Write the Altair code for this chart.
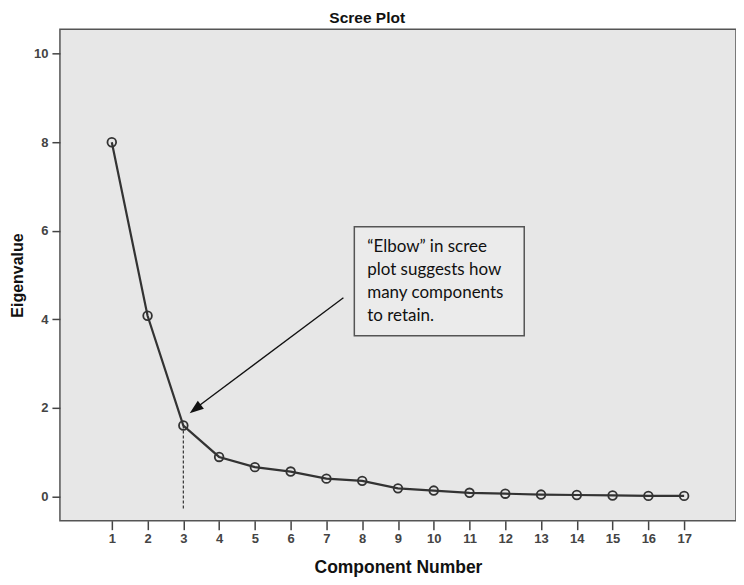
import altair as alt
import pandas as pd

components = list(range(1, 18))
eigenvalues = [8.00, 4.08, 1.60, 0.89, 0.66, 0.56, 0.40, 0.35, 0.18, 0.13,
               0.08, 0.06, 0.04, 0.03, 0.02, 0.01, 0.01]
y_ticks = [0, 2, 4, 6, 8, 10]
note_lines = ["\u201cElbow\u201d in scree", "plot suggests how",
              "many components", "to retain."]
chart_title = "Scree Plot"

df = pd.DataFrame({"component": components, "eigenvalue": eigenvalues})

INK = "#333333"
BG = "#e7e7e7"

xscale = alt.Scale(domain=[-0.45, 18.45], nice=False, zero=False)
yscale = alt.Scale(domain=[-0.55, 10.55], nice=False, zero=False)

xaxis = alt.Axis(values=components, title="Component Number", grid=False,
                 domain=False, tickSize=9, tickWidth=1.5, tickColor="#444",
                 labelFont="Liberation Sans", labelFontSize=13,
                 labelFontWeight="bold", labelColor="#444", labelPadding=3,
                 titleFont="Liberation Sans", titleFontSize=17.5,
                 titleFontWeight="bold", titleColor="#111", titlePadding=13)
yaxis = alt.Axis(values=y_ticks, title="Eigenvalue", grid=False,
                 domain=False, tickSize=8, tickWidth=1.5, tickColor="#444",
                 labelFont="Liberation Sans", labelFontSize=13,
                 labelFontWeight="bold", labelColor="#444", labelPadding=4,
                 titleFont="Liberation Sans", titleFontSize=16,
                 titleFontWeight="bold", titleColor="#111", titlePadding=8)

base = alt.Chart(df)

line = base.mark_line(color=INK, strokeWidth=2.2).encode(
    x=alt.X("component:Q", scale=xscale, axis=xaxis),
    y=alt.Y("eigenvalue:Q", scale=yscale, axis=yaxis),
)
points = base.mark_point(shape="circle", filled=False, color=INK,
                         size=75, strokeWidth=1.8, opacity=1).encode(
    x=alt.X("component:Q", scale=xscale),
    y=alt.Y("eigenvalue:Q", scale=yscale),
)

# dashed drop line at the elbow (component 3)
elbow_df = pd.DataFrame({"x": [3], "y": [eigenvalues[2]], "y2": [-0.32]})
drop = alt.Chart(elbow_df).mark_rule(color=INK, strokeWidth=1.2,
                                     strokeDash=[3, 2]).encode(
    x=alt.X("x:Q", scale=xscale), y=alt.Y("y:Q", scale=yscale), y2="y2:Q")

# annotation box
box_df = pd.DataFrame({"x": [7.78], "x2": [12.53], "y": [6.09], "y2": [3.63]})
box = alt.Chart(box_df).mark_rect(fill="#ebebeb", stroke="#555",
                                  strokeWidth=1.5).encode(
    x=alt.X("x:Q", scale=xscale), x2="x2:Q",
    y=alt.Y("y:Q", scale=yscale), y2="y2:Q")

note_df = pd.DataFrame({"x": [8.14], "y": [5.64], "t": ["\n".join(note_lines)]})
note = alt.Chart(note_df).mark_text(align="left", baseline="middle",
                                    font="Lato", fontSize=17, color="#111",
                                    lineBreak="\n", lineHeight=23.3).encode(
    x=alt.X("x:Q", scale=xscale), y=alt.Y("y:Q", scale=yscale), text="t:N")

# arrow
arrow_df = pd.DataFrame({"x": [7.475], "y": [4.485], "x2": [3.40], "y2": [2.025]})
shaft = alt.Chart(arrow_df).mark_rule(color="#111", strokeWidth=1.3).encode(
    x=alt.X("x:Q", scale=xscale), y=alt.Y("y:Q", scale=yscale),
    x2="x2:Q", y2="y2:Q")
head_df = pd.DataFrame({"x": [3.177], "y": [1.88]})
head = alt.Chart(head_df).mark_point(
    shape="M0,0L-0.36,1L0.36,1Z", filled=True, color="#111", size=784,
    angle=233, opacity=1).encode(
    x=alt.X("x:Q", scale=xscale), y=alt.Y("y:Q", scale=yscale))

# chart title, placed above the plot frame
title_df = pd.DataFrame({"x": [8.14], "y": [10.70], "t": [chart_title]})
title = alt.Chart(title_df).mark_text(
    align="center", baseline="alphabetic", font="Liberation Sans",
    fontSize=15.5, fontWeight="bold", color="#111", clip=False).encode(
    x=alt.X("x:Q", scale=xscale), y=alt.Y("y:Q", scale=yscale), text="t:N")

chart = alt.layer(drop, line, points, box, note, shaft, head, title).properties(
    width=677, height=492,
    autosize=alt.AutoSizeParams(type="none"),
    padding={"left": 52, "top": 21, "right": 0, "bottom": 56},
).configure(background="white"
).configure_view(fill=BG, stroke="#555", strokeWidth=1.5)

chart.save("out.html", embed_options={"renderer": "svg", "actions": False})
